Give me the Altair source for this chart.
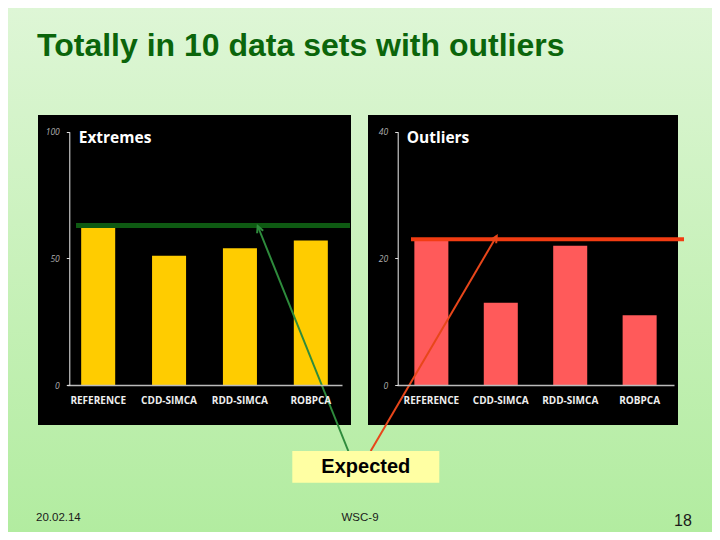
import math
import altair as alt
import pandas as pd

# ---------------- data ----------------
methods = ["REFERENCE", "CDD-SIMCA", "RDD-SIMCA", "ROBPCA"]
extremes = [62, 51, 54, 57]
outliers = [23, 13, 22, 11]
expected_extremes = [63]
expected_outliers = [23]
left_ticks = [0, 50, 100]
right_ticks = [0, 20, 40]

# ---------------- layout helpers (page px -> chart px) ----------------
W, H = 704, 524
OX, OY = 8, 8


def px(x):
    return x - OX


def py(y):
    return y - OY


one = pd.DataFrame({"k": [0]})
df_ext = pd.DataFrame({"method": methods, "value": extremes})
df_out = pd.DataFrame({"method": methods, "value": outliers})
df_ext_line = pd.DataFrame({"value": expected_extremes})
df_out_line = pd.DataFrame({"value": expected_outliers})

CHART_FONT = "Open Sans"
SLIDE_FONT = "Liberation Sans"


def rect(x1, y1, x2, y2, **kw):
    return alt.Chart(one).mark_rect(**kw).encode(
        x=alt.value(px(x1)), x2=alt.value(px(x2)),
        y=alt.value(py(y1)), y2=alt.value(py(y2)))


def text(s, x, y, **kw):
    return alt.Chart(one).mark_text(text=s, **kw).encode(
        x=alt.value(px(x)), y=alt.value(py(y)))


def arrow(x1, y1, x2, y2, color):
    line = alt.Chart(one).mark_rule(color=color, strokeWidth=2).encode(
        x=alt.value(px(x1)), y=alt.value(py(y1)),
        x2=alt.value(px(x2)), y2=alt.value(py(y2)))
    ang = math.degrees(math.atan2(x2 - x1, -(y2 - y1))) % 360
    head = alt.Chart(one).mark_point(
        shape="M-0.5,1L0,0L0.5,1", filled=False, stroke=color,
        strokeWidth=2, size=170, angle=ang, opacity=1).encode(
        x=alt.value(px(x2)), y=alt.value(py(y2)))
    return line + head


# ---------------- background ----------------
bg = alt.Chart(one).mark_rect(
    color=alt.LinearGradient(
        gradient="linear",
        stops=[alt.GradientStop(color="#DEF6D6", offset=0),
               alt.GradientStop(color="#C8F1BA", offset=0.5),
               alt.GradientStop(color="#B2ECA0", offset=1)],
        x1=0, x2=0, y1=0, y2=1)).encode(
    x=alt.value(0), x2=alt.value(W), y=alt.value(0), y2=alt.value(H))

panel_l = rect(38, 115, 351, 425, color="#000000")
panel_r = rect(368, 115, 678, 425, color="#000000")


def axis_x():
    return alt.Axis(orient="bottom", offset=py(385) - H, labelAngle=0,
                    ticks=False, domainColor="#BBBBBB", domainWidth=1.5,
                    labelColor="#EEEEEE", labelFont=CHART_FONT,
                    labelFontWeight="bold", labelFontSize=10,
                    labelPadding=10, labelOverlap=False, zindex=1)


def axis_y(xpos, ticks):
    return alt.Axis(orient="left", offset=-px(xpos), values=ticks,
                    grid=False, tickSize=3, tickColor="#DDDDDD",
                    domainColor="#EEEEEE", domainWidth=1,
                    labelColor="#B0B0B0", labelFontStyle="italic",
                    labelFont=CHART_FONT, labelFontSize=8.5,
                    labelPadding=7, zindex=1)


# ---------------- left panel: Extremes ----------------
bars_l = alt.Chart(df_ext).mark_bar(color="#FFCC00").encode(
    x=alt.X("method:N", sort=methods, title=None,
            scale=alt.Scale(range=[px(67), px(342)], paddingInner=0.52,
                            paddingOuter=0.2),
            axis=axis_x()),
    y=alt.Y("value:Q", title=None,
            scale=alt.Scale(domain=[0, 100], range=[py(385), py(131.7)],
                            nice=False),
            axis=axis_y(69.3, left_ticks)))
line_l = alt.Chart(df_ext_line).mark_rule(color="#0E5A12", strokeWidth=5).encode(
    y=alt.Y("value:Q", title=None),
    x=alt.value(px(76)), x2=alt.value(px(350)))
left = alt.layer(bars_l, line_l)

# ---------------- right panel: Outliers ----------------
bars_r = alt.Chart(df_out).mark_bar(color="#FF5A5A").encode(
    x=alt.X("method:N", sort=methods, title=None,
            scale=alt.Scale(range=[px(397), px(674)], paddingInner=0.51,
                            paddingOuter=0.25),
            axis=axis_x()),
    y=alt.Y("value:Q", title=None,
            scale=alt.Scale(domain=[0, 40], range=[py(385), py(131.7)],
                            nice=False),
            axis=axis_y(397.7, right_ticks)))
line_r = alt.Chart(df_out_line).mark_rule(color="#F23C12", strokeWidth=4).encode(
    y=alt.Y("value:Q", title=None),
    x=alt.value(px(411)), x2=alt.value(px(684)))
right = alt.layer(bars_r, line_r)

# ---------------- texts ----------------
title = text("Totally in 10 data sets with outliers", 37, 56,
             font=SLIDE_FONT, fontSize=32, fontWeight="bold",
             color="#0B650B", align="left", baseline="alphabetic")

t_ext = text("Extremes", 78.7, 143.3, font=CHART_FONT, fontSize=15.5,
             fontWeight="bold", color="#FFFFFF", align="left",
             baseline="alphabetic")
t_out = text("Outliers", 406.7, 143.3, font=CHART_FONT, fontSize=15.5,
             fontWeight="bold", color="#FFFFFF", align="left",
             baseline="alphabetic")

arrow_g = arrow(348.3, 451, 257.7, 226, "#2E8B3C")
arrow_r = arrow(370.7, 451, 496.7, 236, "#E8461A")

box = rect(292.3, 451, 439.3, 482.7, color="#FFFFA3")
t_box = text("Expected", 365.8, 467, font=SLIDE_FONT, fontSize=20,
             fontWeight="bold", color="#000000", align="center",
             baseline="middle")

f_date = text("20.02.14", 36, 517.5, font=SLIDE_FONT, fontSize=11.5,
              color="#1A1A1A", align="left", baseline="middle")
f_conf = text("WSC-9", 360, 518, font=SLIDE_FONT, fontSize=11.5,
              color="#1A1A1A", align="center", baseline="middle")
f_page = text("18", 683, 520.5, font=SLIDE_FONT, fontSize=16,
              color="#1A1A1A", align="center", baseline="middle")

chart = alt.layer(
    bg, panel_l, panel_r, left, right, title, t_ext, t_out,
    arrow_g, arrow_r, box, t_box, f_date, f_conf, f_page
).resolve_scale(
    x="independent", y="independent"
).properties(
    width=W, height=H, padding=0, autosize="none", background="#C8F0BA"
).configure_view(strokeWidth=0)

chart.save("out.html", embed_options={"renderer": "svg", "actions": False})
